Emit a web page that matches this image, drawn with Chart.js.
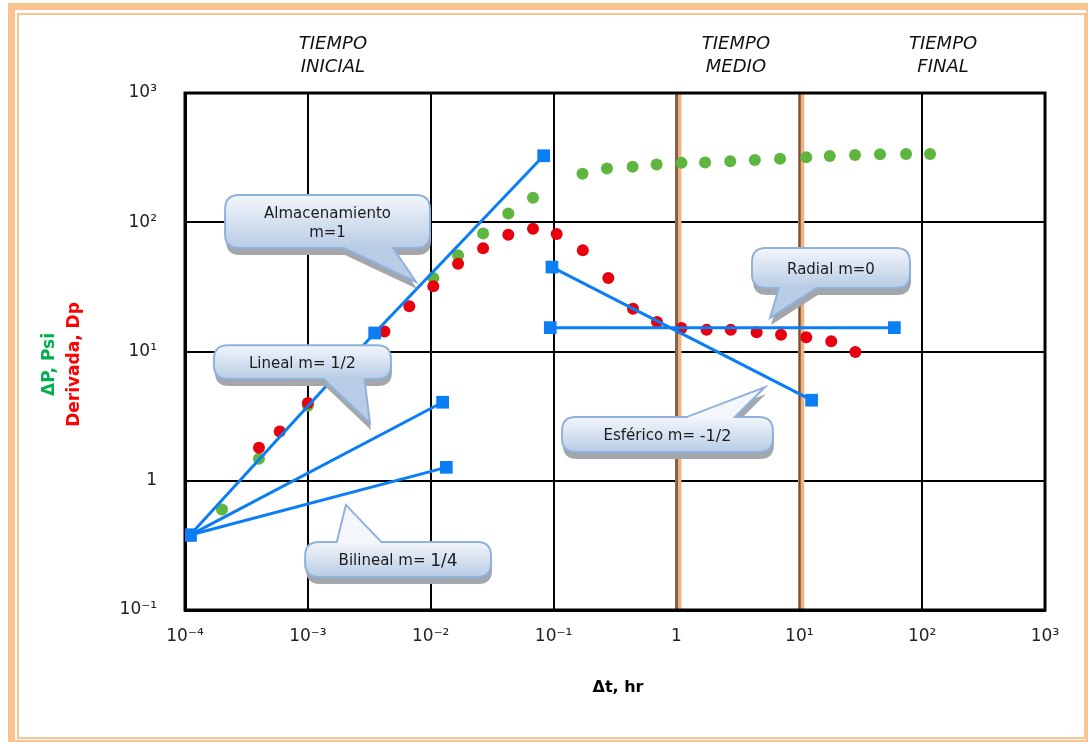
<!DOCTYPE html>
<html>
<head>
<meta charset="utf-8">
<script src="https://cdn.jsdelivr.net/npm/chart.js@4.4.0/dist/chart.umd.min.js"></script>
<style>
body { margin: 0; background: #fff; }
#frameOuter { position: absolute; left: 8px; top: 3px; width: 1080px; height: 739px; box-sizing: border-box; border: solid #fbc390; border-width: 7px 2px 2px 7px; }
#frameInner { position: absolute; left: 17px; top: 13px; width: 1069px; height: 726px; box-sizing: border-box; border: 2px solid #fbc390; }
canvas { position: absolute; left: 0; top: 0; }
</style>
</head>
<body>
<div id="frameOuter"></div>
<div id="frameInner"></div>
<canvas id="chart" width="1088" height="742"></canvas>
<script>

// axis ticks
const xTicks = [ 1e-4, 1e-3, 1e-2, 1e-1, 1, 10, 100, 1000 ];
const xTickLabels = [ '10⁻⁴', '10⁻³', '10⁻²', '10⁻¹', '1', '10¹', '10²', '10³' ];
const yTicks = [ 0.1, 1, 10, 100, 1000 ];
const yTickLabels = [ '10⁻¹', '1', '10¹', '10²', '10³' ];

// pressure change (green)
const dtPressure = [ 2e-4, 4e-4, 1e-3, 0.0105, 0.0167, 0.0267, 0.0428, 0.068, 0.172, 0.272, 0.44, 0.69, 1.1, 1.71, 2.74, 4.35, 6.97, 11.4, 17.7, 28.4, 45.4, 74, 116 ];
const deltaP = [ 0.6, 1.48, 3.8, 37, 55.5, 82, 117, 155, 237, 261, 269, 280, 288, 290, 297, 303, 310, 318, 325, 331, 336, 338, 338 ];

// derivative (red)
const dtDeriv = [ 4e-4, 5.9e-4, 1e-3, 4.2e-3, 6.7e-3, 0.0105, 0.0167, 0.0267, 0.0428, 0.068, 0.106, 0.173, 0.279, 0.443, 0.695, 1.1, 1.76, 2.77, 4.5, 7.1, 11.4, 18.2, 28.6 ];
const derivative = [ 1.8, 2.4, 4.0, 14.3, 22.4, 32, 47.8, 63, 80, 89, 81, 60.7, 37, 21.4, 16.9, 15.2, 14.7, 14.7, 14.1, 13.5, 12.9, 12.0, 9.9 ];

// flow regime lines (blue)
const storageX = [ 1.1e-4, 3.5e-3, 0.083 ];
const storageY = [ 0.38, 13.9, 327 ];
const linearX = [ 1.1e-4, 0.0125 ];
const linearY = [ 0.38, 4.05 ];
const bilinearX = [ 1.1e-4, 0.0134 ];
const bilinearY = [ 0.38, 1.27 ];
const radialX = [ 0.094, 59.4 ];
const radialY = [ 15.3, 15.3 ];
const sphericalX = [ 0.097, 12.6 ];
const sphericalY = [ 45, 4.2 ];

// time periods
const phaseBounds = [ 1, 10 ];
const phaseNames = [ [ 'TIEMPO', 'INICIAL' ], [ 'TIEMPO', 'MEDIO' ], [ 'TIEMPO', 'FINAL' ] ];
const phaseLabelX = [ 1.6e-3, 3.05, 148 ];

const BLUE = '#0b7ef5';
const GREEN = '#5fb63f';
const RED = '#e8000e';
const FONT = "'DejaVu Sans', Verdana, sans-serif";

// callouts: box and tip in data units, tail base as fraction of box width
const callouts = [
    { lines: [ [ [ 'Almacenamiento', 15 ] ], [ [ 'm=1', 15 ] ] ],
      x0: 2.12e-4, x1: 9.86e-3, y0: 162.5, y1: 63.2, side: 'bottom', b0: 0.58, b1: 0.82, tx: 7.6e-3, ty: 34.5 },
    { lines: [ [ [ 'Lineal m= ', 15 ], [ '1/2', 16 ] ] ],
      x0: 1.72e-4, x1: 4.75e-3, y0: 11.2, y1: 6.12, side: 'bottom', b0: 0.62, b1: 0.85, tx: 3.2e-3, ty: 2.8 },
    { lines: [ [ [ 'Bilineal m= ', 15 ], [ '1/4', 17 ] ] ],
      x0: 9.5e-4, x1: 0.031, y0: 0.336, y1: 0.18, side: 'top', b0: 0.17, b1: 0.41, tx: 2.04e-3, ty: 0.65 },
    { lines: [ [ [ 'Radial m=0', 15 ] ] ],
      x0: 4.12, x1: 79.6, y0: 63.2, y1: 31, side: 'bottom', b0: 0.17, b1: 0.41, tx: 5.78, ty: 18.2 },
    { lines: [ [ [ 'Esférico m= ', 15 ], [ '-1/2', 16 ] ] ],
      x0: 0.117, x1: 6.1, y0: 3.11, y1: 1.67, side: 'top', b0: 0.59, b1: 0.82, tx: 5.26, ty: 5.31 },
];

function toXY( xs, ys ) {
    return xs.map( ( x, i ) => ( { x: x, y: ys[ i ] } ) );
}

function blueLine( xs, ys ) {
    return {
        data: toXY( xs, ys ),
        showLine: true,
        borderColor: BLUE,
        backgroundColor: BLUE,
        borderWidth: 3,
        pointStyle: 'rect',
        pointRadius: 9,
        pointBorderWidth: 0,
    };
}

function dots( xs, ys, color ) {
    return {
        data: toXY( xs, ys ),
        showLine: false,
        backgroundColor: color,
        borderWidth: 0,
        pointRadius: 6,
    };
}

function bubblePath( ctx, x0, y0, x1, y1, r, side, b0, b1, tx, ty ) {
    ctx.beginPath();
    ctx.moveTo( x0 + r, y0 );
    if ( side === 'top' ) {
        ctx.lineTo( b0, y0 ); ctx.lineTo( tx, ty ); ctx.lineTo( b1, y0 );
    }
    ctx.lineTo( x1 - r, y0 );
    ctx.quadraticCurveTo( x1, y0, x1, y0 + r );
    ctx.lineTo( x1, y1 - r );
    ctx.quadraticCurveTo( x1, y1, x1 - r, y1 );
    if ( side === 'bottom' ) {
        ctx.lineTo( b1, y1 ); ctx.lineTo( tx, ty ); ctx.lineTo( b0, y1 );
    }
    ctx.lineTo( x0 + r, y1 );
    ctx.quadraticCurveTo( x0, y1, x0, y1 - r );
    ctx.lineTo( x0, y0 + r );
    ctx.quadraticCurveTo( x0, y0, x0 + r, y0 );
    ctx.closePath();
}

function drawCallout( ctx, sx, sy, c ) {
    let x0 = sx.getPixelForValue( c.x0 ), x1 = sx.getPixelForValue( c.x1 );
    let y0 = sy.getPixelForValue( c.y0 ), y1 = sy.getPixelForValue( c.y1 );
    let b0 = x0 + c.b0 * ( x1 - x0 ), b1 = x0 + c.b1 * ( x1 - x0 );
    let tx = sx.getPixelForValue( c.tx ), ty = sy.getPixelForValue( c.ty );
    let r = 14;

    // extruded shadow
    ctx.save();
    ctx.translate( 1, 7 );
    bubblePath( ctx, x0, y0, x1, y1, r, c.side, b0, b1, tx, ty );
    ctx.fillStyle = '#a3a6ab';
    ctx.fill();
    ctx.restore();

    bubblePath( ctx, x0, y0, x1, y1, r, c.side, b0, b1, tx, ty );
    let grad = ctx.createLinearGradient( 0, y0, 0, y1 );
    grad.addColorStop( 0, '#f3f6fb' );
    grad.addColorStop( 1, '#b8cce5' );
    ctx.fillStyle = grad;
    ctx.fill();
    ctx.lineWidth = 2;
    ctx.strokeStyle = '#8fb2dc';
    ctx.stroke();

    // text
    let cx = ( x0 + x1 ) / 2;
    let cy = ( y0 + y1 ) / 2 + 2;
    let lh = 19;
    let startY = cy - ( c.lines.length - 1 ) * lh / 2;
    ctx.fillStyle = '#1c1c1c';
    ctx.textBaseline = 'middle';
    ctx.textAlign = 'left';
    c.lines.forEach( function( runs, li ) {
        let total = 0;
        runs.forEach( function( run ) {
            ctx.font = run[ 1 ] + 'px ' + FONT;
            total += ctx.measureText( run[ 0 ] ).width;
        } );
        let x = cx - total / 2;
        runs.forEach( function( run ) {
            ctx.font = run[ 1 ] + 'px ' + FONT;
            ctx.fillText( run[ 0 ], x, startY + li * lh );
            x += ctx.measureText( run[ 0 ] ).width;
        } );
    } );
}

const decorPlugin = {
    id: 'decor',
    beforeDatasetsDraw( chart ) {
        let ctx = chart.ctx, area = chart.chartArea, sx = chart.scales.x;
        ctx.save();
        phaseBounds.forEach( function( v ) {
            let px = sx.getPixelForValue( v );
            ctx.fillStyle = '#f2b27f';
            ctx.fillRect( px - 1, area.top, 6, area.bottom - area.top );
            ctx.fillStyle = '#3a2a20';
            ctx.fillRect( px, area.top, 1.2, area.bottom - area.top );
        } );
        ctx.lineWidth = 3;
        ctx.strokeStyle = '#000';
        ctx.strokeRect( area.left, area.top, area.right - area.left, area.bottom - area.top );
        ctx.restore();
    },
    afterDraw( chart ) {
        let ctx = chart.ctx, area = chart.chartArea;
        let sx = chart.scales.x, sy = chart.scales.y;
        ctx.save();

        callouts.forEach( c => drawCallout( ctx, sx, sy, c ) );

        // period labels above the plot
        ctx.font = 'italic 18px ' + FONT;
        ctx.fillStyle = '#111';
        ctx.textAlign = 'center';
        ctx.textBaseline = 'middle';
        phaseNames.forEach( function( name, i ) {
            let px = sx.getPixelForValue( phaseLabelX[ i ] );
            ctx.fillText( name[ 0 ], px, area.top - 49 );
            ctx.fillText( name[ 1 ], px, area.top - 26 );
        } );

        // x title
        ctx.font = 'bold 16px ' + FONT;
        ctx.fillStyle = '#000';
        ctx.fillText( 'Δt, hr', ( area.left + area.right ) / 2 + 3, area.bottom + 78 );

        // y title, two coloured lines
        let cy = ( area.top + area.bottom ) / 2 + 13;
        ctx.font = 'bold 17px ' + FONT;
        ctx.translate( area.left - 135, cy );
        ctx.rotate( -Math.PI / 2 );
        ctx.fillStyle = '#00b050';
        ctx.fillText( 'ΔP, Psi', 0, 0 );
        ctx.translate( 0, 25 );
        ctx.fillStyle = '#ff0000';
        ctx.fillText( 'Derivada, Dp', 0, 0 );

        ctx.restore();
    },
};

let ctx = document.getElementById( 'chart' ).getContext( '2d' );
let myChart = new Chart( ctx, {
    type: 'scatter',
    data: {
        datasets: [
            blueLine( storageX, storageY ),
            blueLine( linearX, linearY ),
            blueLine( bilinearX, bilinearY ),
            blueLine( radialX, radialY ),
            blueLine( sphericalX, sphericalY ),
            dots( dtDeriv, derivative, RED ),
            dots( dtPressure, deltaP, GREEN ),
        ],
    },
    options: {
        responsive: false,
        animation: false,
        layout: {
            padding: { top: 93, right: 43, bottom: 0, left: 0 },
        },
        plugins: {
            legend: { display: false },
            tooltip: { enabled: false },
        },
        scales: {
            x: {
                type: 'logarithmic',
                min: 1e-4,
                max: 1000,
                afterBuildTicks: s => { s.ticks = xTicks.map( v => ( { value: v } ) ); },
                afterFit: s => { s.height = 132; },
                grid: { color: '#000', lineWidth: 2, drawTicks: false },
                border: { color: '#000', width: 3 },
                ticks: {
                    autoSkip: false,
                    maxRotation: 0,
                    padding: 16,
                    color: '#222',
                    font: { family: FONT, size: 17 },
                    callback: ( v, i ) => xTickLabels[ i ],
                },
            },
            y: {
                type: 'logarithmic',
                min: 0.1,
                max: 1000,
                afterBuildTicks: s => { s.ticks = yTicks.map( v => ( { value: v } ) ); },
                afterFit: s => { s.width = 185; },
                grid: { color: '#000', lineWidth: 2, drawTicks: false },
                border: { color: '#000', width: 3 },
                ticks: {
                    autoSkip: false,
                    padding: 28,
                    color: '#222',
                    font: { family: FONT, size: 17 },
                    callback: ( v, i ) => yTickLabels[ i ],
                },
            },
        },
    },
    plugins: [ decorPlugin ],
} );

</script>
</body>
</html>
